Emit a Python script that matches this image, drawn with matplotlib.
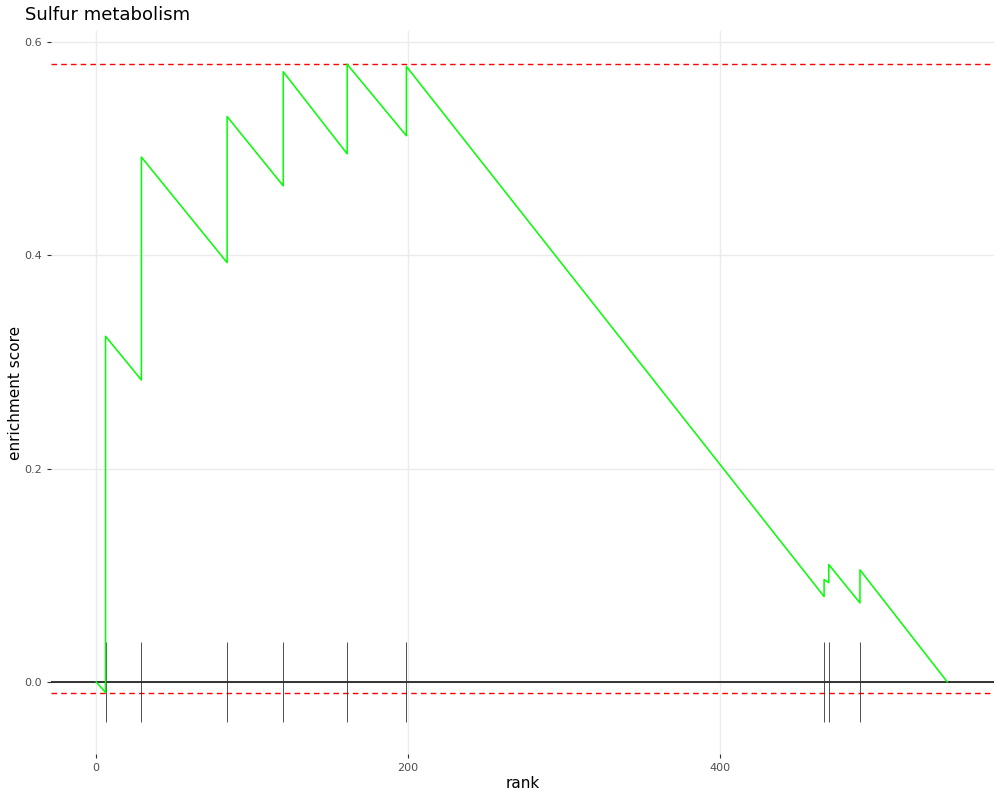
import matplotlib.pyplot as plt

# running enrichment score (rank, score)
es_rank = [0, 6, 6, 29, 29, 84, 84, 120, 120, 161, 161, 199, 199,
           467, 467, 470, 470, 490, 490, 546]
es_score = [0.0, -0.010, 0.324, 0.283, 0.492, 0.393, 0.530, 0.465, 0.572,
            0.495, 0.579, 0.512, 0.577, 0.080, 0.096, 0.093, 0.110, 0.074,
            0.105, 0.0]

# positions of pathway genes in the ranked list
hit_ranks = [6, 29, 84, 120, 161, 199, 467, 470, 490]

es_max = 0.579
es_min = -0.0103
tick_half = 0.0375

fig = plt.figure(figsize=(10, 8), dpi=100)
ax = fig.add_axes([0.051, 0.057, 0.943, 0.904])

ax.plot(es_rank, es_score, color='#00FF00', linewidth=1.1, zorder=3)
ax.axhline(0, color='black', linewidth=1.1, zorder=2)
ax.axhline(es_max, color='red', linestyle=(0, (4, 3)), linewidth=1.0, zorder=2)
ax.axhline(es_min, color='red', linestyle=(0, (4, 3)), linewidth=1.0, zorder=2)
ax.vlines(hit_ranks, -tick_half, tick_half, color='#333333', linewidth=0.6, zorder=2)

ax.set_xlim(-29, 576)
ax.set_ylim(-0.068, 0.61)
ax.set_xticks([0, 200, 400])
ax.set_yticks([0.0, 0.2, 0.4, 0.6])
ax.set_yticklabels(['0.0', '0.2', '0.4', '0.6'])

ax.grid(True, color='#EBEBEB', linewidth=1.0, zorder=0)
ax.set_axisbelow(True)
for s in ax.spines.values():
    s.set_visible(False)
ax.tick_params(axis='both', colors='#333333', labelcolor='#4D4D4D',
               labelsize=8, length=3, width=0.8)

ax.set_xlabel('rank', fontsize=11, labelpad=2)
ax.set_ylabel('enrichment score', fontsize=11, labelpad=1)
fig.text(0.025, 0.97, 'Sulfur metabolism', fontsize=13, ha='left', va='bottom')

fig.savefig('out.png', dpi=100)
